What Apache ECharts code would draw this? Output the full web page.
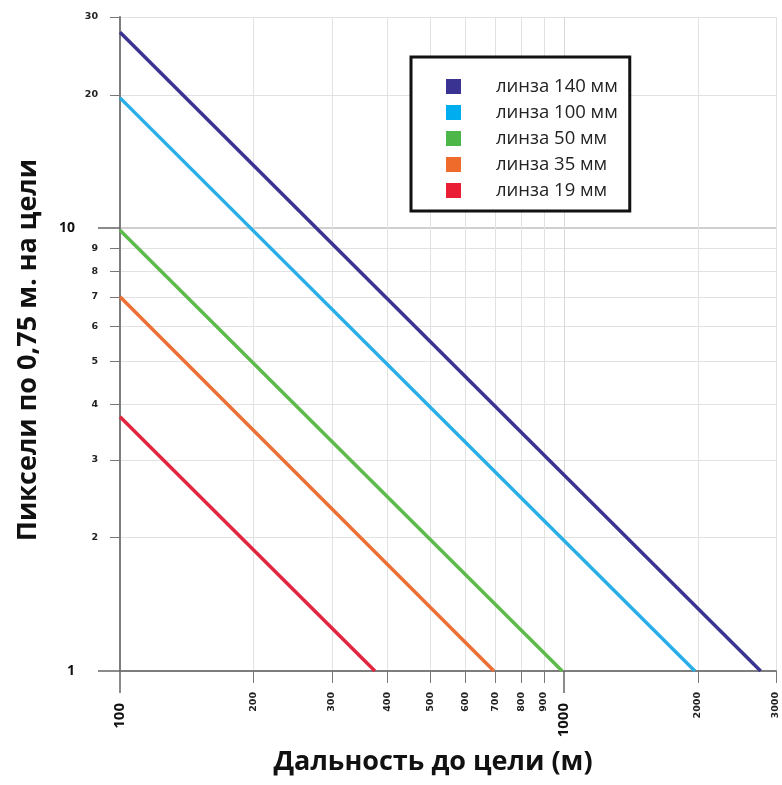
<!DOCTYPE html>
<html><head><meta charset="utf-8">
<script src="https://cdn.jsdelivr.net/npm/echarts@6/dist/echarts.min.js"></script>
<style>html,body{margin:0;padding:0;background:#fff}#c{width:782px;height:785px}</style>
</head><body><div id="c"></div>
<script>
// Data
const lensNames = ['линза 140 мм', 'линза 100 мм', 'линза 50 мм', 'линза 35 мм', 'линза 19 мм'];
const lensColors = ['#3a3391', '#29aee8', '#5cbb4a', '#ec7035', '#e3263f'];
const legendColors = ['#3a3391', '#00aeef', '#4cb748', '#ee6b2b', '#e91d33'];
const pixelsAt100m = [27.7, 19.7, 9.9, 7.0, 3.75];   // pixels at 100 m
const rangeAt1px = [2770, 1970, 990, 695, 375];       // range (m) where 1 pixel is reached
const startRange = 100;
const endPixels = 1;

const xMinorTicks = [200, 300, 400, 500, 600, 700, 800, 900, 2000, 3000];
const xMajorTicks = [100, 1000];
const yMinorTicks = [2, 3, 4, 5, 6, 7, 8, 9, 20, 30];
const yMajorTicks = [1, 10];

const xTitle = 'Дальность до цели (м)';
const yTitle = 'Пиксели по 0,75 м. на цели';

const font = '"Open Sans", "Noto Sans", sans-serif';
const plain = v => String(Math.round(v));

const series = lensNames.map((n, i) => ({
  name: n,
  type: 'line',
  xAxisIndex: 0, yAxisIndex: 0,
  symbol: 'none',
  color: legendColors[i],
  lineStyle: { color: lensColors[i], width: 3.5 },
  data: [[startRange, pixelsAt100m[i]], [rangeAt1px[i], endPixels]],
  z: 5
}));

const chart = echarts.init(document.getElementById('c'));
chart.setOption({
  animation: false,
  backgroundColor: '#fff',
  grid: { left: 120, top: 17, right: 6, bottom: 114, containLabel: false },
  legend: {
    orient: 'vertical', left: 411, top: 57,
    icon: 'rect', itemWidth: 15, itemHeight: 15, itemGap: 7,
    padding: [20, 12, 11, 35],
    backgroundColor: '#fff', borderColor: '#111', borderWidth: 3,
    textStyle: { fontFamily: font, fontSize: 18.5, color: '#222', padding: [0, 0, 0, 30], lineHeight: 15 },
    data: lensNames.map((n, i) => ({ name: n, itemStyle: { color: legendColors[i] } }))
  },
  xAxis: [
    {
      type: 'log', logBase: 10, min: 100, max: 3000,
      axisLine: { show: true, lineStyle: { color: '#7d7d7d', width: 2 } },
      axisTick: { show: true, customValues: xMinorTicks, length: 12, lineStyle: { color: '#777', width: 1 } },
      axisLabel: { customValues: xMinorTicks, formatter: plain, rotate: 90, margin: 21, fontSize: 9.5, fontWeight: 'bold', color: '#222', fontFamily: 'DejaVu Sans' },
      splitLine: { show: true, lineStyle: { color: '#e2e2e2', width: 1 } },
      minorTick: { show: false }
    },
    {
      type: 'log', logBase: 10, min: 100, max: 3000, position: 'bottom', gridIndex: 0,
      axisLine: { show: false },
      axisTick: { show: true, customValues: xMajorTicks, length: 22, lineStyle: { color: '#666', width: 1.5 } },
      axisLabel: { customValues: xMajorTicks, formatter: plain, rotate: 90, margin: 32, fontSize: 15, fontWeight: 'bold', color: '#111', fontFamily: font },
      splitLine: { show: true, lineStyle: { color: '#d8d8d8', width: 1 } }
    }
  ],
  yAxis: [
    {
      type: 'log', logBase: 10, min: 1, max: 30,
      axisLine: { show: true, lineStyle: { color: '#7d7d7d', width: 2 } },
      axisTick: { show: true, customValues: yMinorTicks, length: 10, lineStyle: { color: '#777', width: 1 } },
      axisLabel: { customValues: yMinorTicks, formatter: plain, margin: 22, fontSize: 9.5, fontWeight: 'bold', color: '#222', fontFamily: 'DejaVu Sans' },
      splitLine: { show: true, lineStyle: { color: '#e2e2e2', width: 1 } }
    },
    {
      type: 'log', logBase: 10, min: 1, max: 30, position: 'left', gridIndex: 0,
      axisLine: { show: false },
      axisTick: { show: true, customValues: yMajorTicks, length: 22, lineStyle: { color: '#666', width: 1.5 } },
      axisLabel: { customValues: yMajorTicks, formatter: plain, margin: 45, fontSize: 14, fontWeight: 'bold', color: '#111', fontFamily: font },
      splitLine: { show: true, lineStyle: { color: '#cfcfcf', width: 2 } }
    }
  ],
  graphic: [
    { type: 'text', x: 433, y: 762,
      style: { text: xTitle, font: 'bold 27px ' + font, fill: '#111', textAlign: 'center', textVerticalAlign: 'middle' } },
    { type: 'text', x: 28, y: 350, rotation: Math.PI / 2,
      style: { text: yTitle, font: 'bold 27px ' + font, fill: '#111', textAlign: 'center', textVerticalAlign: 'middle' } }
  ],
  series: series
});
</script></body></html>
